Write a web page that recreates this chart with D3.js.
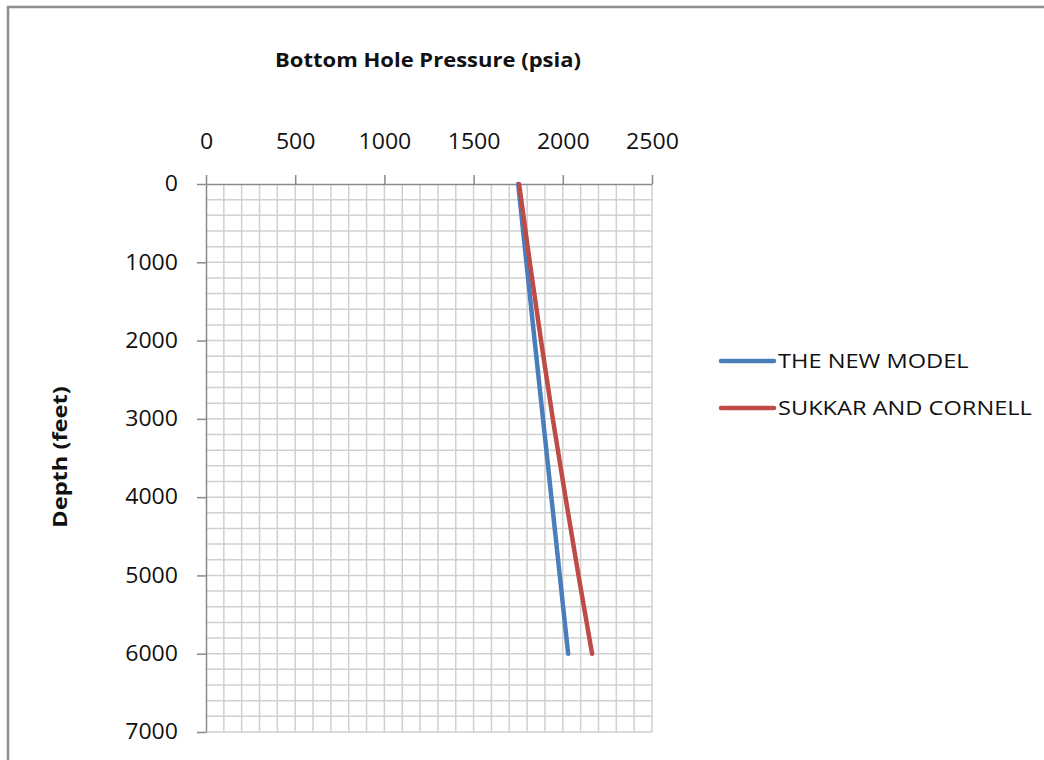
<!DOCTYPE html>
<html>
<head>
<meta charset="utf-8">
<script src="https://cdn.jsdelivr.net/npm/d3@7"></script>
<style>
  html, body { margin: 0; padding: 0; background: #fff; }
  svg { display: block; }
  text { font-family: "Open Sans", "Liberation Sans", sans-serif; fill: #111; }
</style>
</head>
<body>
<svg id="chart" width="1044" height="760"></svg>
<script>
// Depth (feet) at which the bottom hole pressure was computed
const depths = [0, 1000, 2000, 3000, 4000, 5000, 6000];
// Bottom hole pressure (psia) for each model
const newModel = [1750, 1796, 1842, 1889, 1936, 1983, 2030];
const sukkarCornell = [1755, 1815, 1878, 1944, 2015, 2088, 2164];
const seriesNames = ["THE NEW MODEL", "SUKKAR AND CORNELL"];
const seriesColors = ["#4a7ebb", "#be4b48"];
const pressureTicks = [0, 500, 1000, 1500, 2000, 2500];
const depthTicks = [0, 1000, 2000, 3000, 4000, 5000, 6000, 7000];

const svg = d3.select("#chart");
const plot = { left: 206, right: 652, top: 184, bottom: 732 };

// widen glyphs so the labels read like the wide chart font
function stretch(sel, k) {
  sel.each(function () {
    const w = this.getComputedTextLength();
    d3.select(this).attr("textLength", w * k).attr("lengthAdjust", "spacingAndGlyphs");
  });
}

// outer chart frame
svg.append("rect")
  .attr("x", 8).attr("y", 7)
  .attr("width", 1100).attr("height", 800)
  .attr("fill", "none").attr("stroke", "#8f8f8f").attr("stroke-width", 2.5);

const x = d3.scaleLinear().domain([0, 2500]).range([plot.left, plot.right]);
const y = d3.scaleLinear().domain([0, 7000]).range([plot.top, plot.bottom]);

// minor gridlines: every 100 psia and every 200 feet
const grid = svg.append("g").attr("stroke", "#d0d0d0").attr("stroke-width", 1.5);
grid.selectAll("line.v").data(d3.range(100, 2501, 100)).join("line")
  .attr("x1", d => x(d)).attr("x2", d => x(d))
  .attr("y1", plot.top).attr("y2", plot.bottom);
grid.selectAll("line.h").data(d3.range(200, 7001, 200)).join("line")
  .attr("x1", plot.left).attr("x2", plot.right)
  .attr("y1", d => y(d)).attr("y2", d => y(d));

// pressure axis along the top
const xAxis = svg.append("g")
  .attr("transform", `translate(0,${plot.top})`)
  .call(d3.axisTop(x).tickValues(pressureTicks).tickFormat(d3.format("d"))
    .tickSize(9).tickSizeOuter(0).tickPadding(26));
xAxis.select(".domain").attr("stroke", "#8a8a8a").attr("stroke-width", 1.5);
xAxis.selectAll(".tick line").attr("stroke", "#8a8a8a").attr("stroke-width", 1.5);
xAxis.selectAll(".tick text")
  .attr("font-family", "Open Sans").attr("font-size", 21).attr("fill", "#111");

// depth axis on the left
const yAxis = svg.append("g")
  .attr("transform", `translate(${plot.left},0)`)
  .call(d3.axisLeft(y).tickValues(depthTicks).tickFormat(d3.format("d"))
    .tickSize(9).tickSizeOuter(0).tickPadding(19));
yAxis.select(".domain").attr("stroke", "#8a8a8a").attr("stroke-width", 1.5);
yAxis.selectAll(".tick text")
  .attr("font-family", "Open Sans").attr("font-size", 21).attr("fill", "#111");
yAxis.selectAll(".tick line").attr("stroke", "#8a8a8a").attr("stroke-width", 1.5);

stretch(xAxis.selectAll(".tick text"), 1.1);
stretch(yAxis.selectAll(".tick text"), 1.1);

// series lines
const line = d3.line().x(d => x(d[1])).y(d => y(d[0]));
[newModel, sukkarCornell].forEach((vals, i) => {
  svg.append("path")
    .datum(depths.map((d, j) => [d, vals[j]]))
    .attr("d", line)
    .attr("fill", "none")
    .attr("stroke", seriesColors[i])
    .attr("stroke-width", 4.5)
    .attr("stroke-linecap", "round");
});

// titles
const title = svg.append("text")
  .attr("x", 428).attr("y", 67)
  .attr("text-anchor", "middle")
  .attr("font-size", 20).attr("font-weight", "bold")
  .text("Bottom Hole Pressure (psia)");
stretch(title, 1.1);

const yTitle = svg.append("text")
  .attr("transform", "translate(67,457) rotate(-90)")
  .attr("text-anchor", "middle")
  .attr("font-size", 20).attr("font-weight", "bold")
  .text("Depth (feet)");
stretch(yTitle, 1.18);

// legend
const legend = svg.append("g");
seriesNames.forEach((name, i) => {
  const ly = 361 + i * 47;
  legend.append("line")
    .attr("x1", 721).attr("x2", 774)
    .attr("y1", ly).attr("y2", ly)
    .attr("stroke", seriesColors[i]).attr("stroke-width", 4.5)
    .attr("stroke-linecap", "round");
  const t = legend.append("text")
    .attr("x", 778).attr("y", ly)
    .attr("dy", "0.35em")
    .attr("font-size", 20)
    .text(name);
  stretch(t, 1.18);
});
</script>
</body>
</html>
